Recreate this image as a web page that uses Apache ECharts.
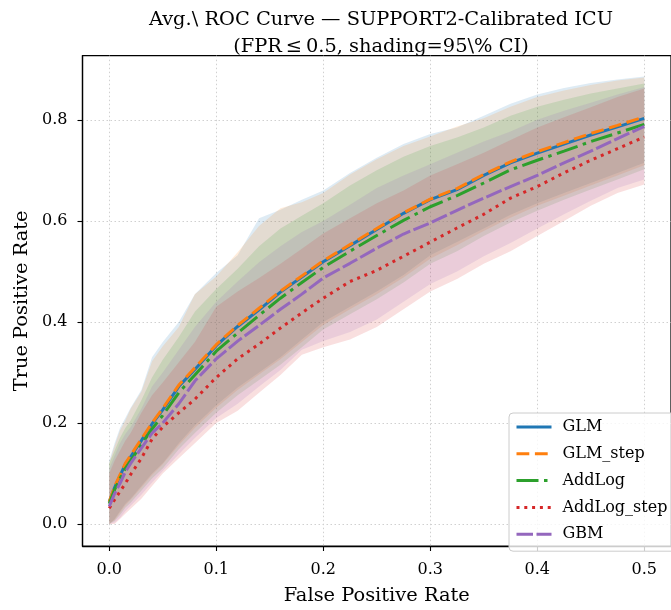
<!DOCTYPE html>
<html><head><meta charset="utf-8">
<script src="https://cdn.jsdelivr.net/npm/echarts@6/dist/echarts.min.js"></script>
<style>html,body{margin:0;padding:0;background:#fff}#c{width:671px;height:610px}</style>
</head><body><div id="c"></div>
<script>
// ---- data ----
const fpr = [0, 0.005, 0.01, 0.015, 0.02, 0.03, 0.04, 0.05, 0.065, 0.08, 0.1, 0.12, 0.14, 0.16, 0.18, 0.2, 0.225, 0.25, 0.275, 0.3, 0.325, 0.35, 0.375, 0.4, 0.425, 0.45, 0.475, 0.5];

const tprGLM        = [0.044, 0.072, 0.095, 0.118, 0.133, 0.165, 0.198, 0.226, 0.272, 0.306, 0.353, 0.391, 0.424, 0.459, 0.489, 0.519, 0.551, 0.583, 0.615, 0.642, 0.662, 0.690, 0.715, 0.734, 0.752, 0.770, 0.786, 0.803];
const tprGLMstep    = [0.044, 0.074, 0.097, 0.120, 0.136, 0.168, 0.200, 0.229, 0.275, 0.309, 0.355, 0.393, 0.427, 0.461, 0.491, 0.521, 0.553, 0.585, 0.616, 0.643, 0.664, 0.692, 0.717, 0.737, 0.755, 0.773, 0.789, 0.806];
const tprAddLog     = [0.040, 0.068, 0.090, 0.110, 0.125, 0.157, 0.188, 0.215, 0.260, 0.295, 0.342, 0.378, 0.413, 0.447, 0.478, 0.508, 0.540, 0.571, 0.601, 0.628, 0.650, 0.675, 0.701, 0.720, 0.738, 0.757, 0.774, 0.791];
const tprAddLogStep = [0.031, 0.048, 0.064, 0.080, 0.098, 0.130, 0.168, 0.192, 0.220, 0.247, 0.290, 0.327, 0.356, 0.388, 0.418, 0.447, 0.480, 0.502, 0.530, 0.558, 0.586, 0.613, 0.645, 0.668, 0.695, 0.720, 0.743, 0.766];
const tprGBM        = [0.035, 0.060, 0.080, 0.103, 0.120, 0.150, 0.180, 0.200, 0.238, 0.283, 0.327, 0.362, 0.393, 0.425, 0.455, 0.487, 0.516, 0.546, 0.574, 0.596, 0.621, 0.645, 0.668, 0.690, 0.715, 0.738, 0.763, 0.787];

const hiGLM        = [0.125, 0.160, 0.190, 0.210, 0.230, 0.265, 0.330, 0.360, 0.400, 0.455, 0.497, 0.532, 0.605, 0.622, 0.642, 0.660, 0.695, 0.725, 0.752, 0.772, 0.785, 0.808, 0.832, 0.850, 0.863, 0.873, 0.880, 0.886];
const hiGLMstep    = [0.120, 0.155, 0.185, 0.205, 0.228, 0.262, 0.322, 0.352, 0.390, 0.455, 0.490, 0.538, 0.590, 0.625, 0.637, 0.655, 0.692, 0.722, 0.748, 0.767, 0.787, 0.803, 0.826, 0.845, 0.858, 0.869, 0.878, 0.884];
const hiAddLog     = [0.120, 0.145, 0.170, 0.190, 0.205, 0.245, 0.290, 0.325, 0.370, 0.420, 0.465, 0.505, 0.550, 0.585, 0.610, 0.635, 0.670, 0.700, 0.727, 0.748, 0.765, 0.785, 0.808, 0.826, 0.840, 0.852, 0.862, 0.872];
const hiAddLogStep = [0.100, 0.125, 0.145, 0.165, 0.180, 0.220, 0.255, 0.280, 0.320, 0.360, 0.430, 0.460, 0.487, 0.515, 0.545, 0.575, 0.605, 0.635, 0.660, 0.690, 0.712, 0.735, 0.760, 0.785, 0.805, 0.825, 0.845, 0.862];
const hiGBM        = [0.110, 0.135, 0.160, 0.178, 0.192, 0.228, 0.272, 0.300, 0.345, 0.390, 0.440, 0.480, 0.518, 0.550, 0.578, 0.600, 0.632, 0.665, 0.690, 0.712, 0.735, 0.757, 0.777, 0.800, 0.818, 0.834, 0.850, 0.865];

const loGLM        = [0.000, 0.010, 0.025, 0.040, 0.050, 0.075, 0.100, 0.120, 0.160, 0.195, 0.235, 0.270, 0.300, 0.330, 0.365, 0.400, 0.430, 0.460, 0.493, 0.532, 0.558, 0.585, 0.612, 0.635, 0.655, 0.675, 0.695, 0.715];
const loGLMstep    = [0.000, 0.008, 0.022, 0.037, 0.048, 0.072, 0.097, 0.118, 0.156, 0.190, 0.230, 0.265, 0.296, 0.326, 0.360, 0.394, 0.425, 0.455, 0.488, 0.525, 0.552, 0.580, 0.606, 0.630, 0.650, 0.670, 0.690, 0.710];
const loAddLog     = [0.000, 0.006, 0.018, 0.032, 0.042, 0.066, 0.090, 0.110, 0.148, 0.180, 0.220, 0.255, 0.285, 0.315, 0.350, 0.385, 0.415, 0.445, 0.478, 0.515, 0.540, 0.570, 0.597, 0.620, 0.642, 0.662, 0.682, 0.702];
const loAddLogStep = [0.000, 0.000, 0.010, 0.020, 0.030, 0.050, 0.075, 0.100, 0.130, 0.160, 0.200, 0.224, 0.260, 0.295, 0.335, 0.350, 0.365, 0.390, 0.425, 0.460, 0.485, 0.515, 0.540, 0.570, 0.600, 0.630, 0.655, 0.672];
const loGBM        = [0.000, 0.003, 0.012, 0.025, 0.036, 0.058, 0.082, 0.105, 0.138, 0.170, 0.210, 0.238, 0.272, 0.305, 0.345, 0.362, 0.380, 0.405, 0.440, 0.475, 0.500, 0.530, 0.556, 0.585, 0.613, 0.640, 0.665, 0.682];

const modelNames = ['GLM', 'GLM_step', 'AddLog', 'AddLog_step', 'GBM'];
const xTicks = [0, 0.1, 0.2, 0.3, 0.4, 0.5];
const yTicks = [0, 0.2, 0.4, 0.6, 0.8];
const titleLine1 = 'Avg.\\ ROC Curve \u2014 SUPPORT2-Calibrated ICU';
const titleLine2 = '(FPR\u2009\u2264\u20090.5, shading=95\\% CI)';

// ---- styling ----
const FONT = 'DejaVu Serif';
const colors = ['#1f77b4', '#ff7f0e', '#2ca02c', '#d62728', '#9467bd'];
const dashes = ['solid', [12.8, 5.6], [22, 5.5, 3.5, 5.5], [3, 4.8], [16.5, 3.5]];
const curves = [tprGLM, tprGLMstep, tprAddLog, tprAddLogStep, tprGBM];
const his = [hiGLM, hiGLMstep, hiAddLog, hiAddLogStep, hiGBM];
const los = [loGLM, loGLMstep, loAddLog, loAddLogStep, loGBM];

function rgba(hex, a) {
  const n = parseInt(hex.slice(1), 16);
  return 'rgba(' + (n >> 16) + ',' + ((n >> 8) & 255) + ',' + (n & 255) + ',' + a + ')';
}

const series = [];
modelNames.forEach(function (name, k) {
  const lo = los[k], hi = his[k];
  series.push({
    type: 'custom', name: name + ' CI', silent: true, clip: true, z: 1, animation: false,
    data: [[0, 0]],
    encode: { x: 0, y: 1 },
    renderItem: function (params, api) {
      const pts = [];
      for (let i = 0; i < fpr.length; i++) pts.push(api.coord([fpr[i], hi[i]]));
      for (let i = fpr.length - 1; i >= 0; i--) pts.push(api.coord([fpr[i], lo[i]]));
      return { type: 'polygon', shape: { points: pts }, style: { fill: rgba(colors[k], 0.15), stroke: null } };
    }
  });
});
modelNames.forEach(function (name, k) {
  series.push({
    type: 'line', name: name, z: 3, animation: false, clip: true,
    symbol: 'none', showSymbol: false,
    data: fpr.map(function (x, i) { return [x, curves[k][i]]; }),
    lineStyle: { color: colors[k], width: 3, type: dashes[k], cap: 'butt' },
    itemStyle: { color: colors[k] }
  });
});

const chart = echarts.init(document.getElementById('c'), null, { renderer: 'canvas' });
chart.setOption({
  animation: false,
  backgroundColor: '#fff',
  title: [
    { text: titleLine1, left: 381, top: 10, textAlign: 'center', padding: 0,
      textStyle: { fontFamily: FONT, fontSize: 19.4, fontWeight: 'normal', color: '#000' } },
    { text: titleLine2, left: 381, top: 37, textAlign: 'center', padding: 0,
      textStyle: { fontFamily: FONT, fontSize: 19.4, fontWeight: 'normal', color: '#000' } }
  ],
  grid: { left: 82.5, top: 55.7, width: 598, height: 493.8, show: true, borderColor: '#000', borderWidth: 1.25, backgroundColor: 'transparent', containLabel: false },
  legend: {
    data: modelNames, orient: 'vertical', left: 509, top: 413,
    padding: [6, 8, 9, 6], itemWidth: 35, itemHeight: 14, itemGap: 10.8,
    backgroundColor: 'rgba(255,255,255,0.8)', borderColor: '#cccccc', borderWidth: 1, borderRadius: 4,
    itemStyle: { opacity: 0, borderWidth: 0 },
    lineStyle: { width: 3 },
    formatter: '{a|{name}}',
    textStyle: { fontFamily: FONT, fontSize: 16, color: '#000', rich: { a: { fontFamily: FONT, fontSize: 16, color: '#000', padding: [0, 0, 0, 6] } } }
  },
  xAxis: {
    type: 'value', min: -0.025, max: 0.525,
    name: 'False Positive Rate', nameLocation: 'middle', nameGap: 40,
    nameTextStyle: { fontFamily: FONT, fontSize: 19.4, color: '#000' },
    axisLine: { show: true, onZero: false, lineStyle: { color: '#000', width: 1.25 } },
    axisTick: { show: true, length: 5, lineStyle: { color: '#000', width: 1.1 }, customValues: xTicks },
    axisLabel: { customValues: xTicks, formatter: function (v) { return v.toFixed(1); }, margin: 16, color: '#000', fontFamily: FONT, fontSize: 16 },
    splitLine: { show: true, lineStyle: { color: '#d0d0d0', type: [1.5, 2.5], width: 1 } }
  },
  yAxis: {
    type: 'value', min: -0.0436, max: 0.927,
    name: 'True Positive Rate', nameLocation: 'middle', nameGap: 48,
    nameTextStyle: { fontFamily: FONT, fontSize: 19.4, color: '#000' },
    axisLine: { show: true, onZero: false, lineStyle: { color: '#000', width: 1.25 } },
    axisTick: { show: true, length: 5, lineStyle: { color: '#000', width: 1.1 }, customValues: yTicks },
    axisLabel: { customValues: yTicks, formatter: function (v) { return v.toFixed(1); }, margin: 15, color: '#000', fontFamily: FONT, fontSize: 16 },
    splitLine: { show: true, lineStyle: { color: '#d0d0d0', type: [1.5, 2.5], width: 1 } }
  },
  series: series
});
</script>
</body></html>
